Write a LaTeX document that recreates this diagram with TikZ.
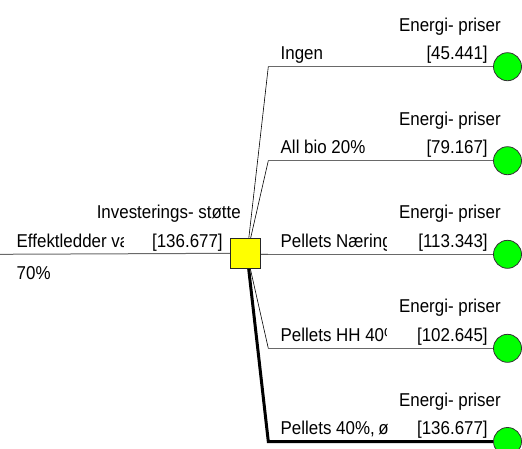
\documentclass[tikz,border=0pt]{standalone}
\usepackage{fontspec}
\setmainfont[FakeStretch=0.91]{Liberation Sans}
\usetikzlibrary{backgrounds}

\definecolor{decyellow}{RGB}{255,255,0}
\definecolor{chancegreen}{RGB}{0,255,0}
\definecolor{branchgray}{RGB}{105,105,105}

\tikzset{
  every node/.style={font=\fontsize{18.6}{22}\selectfont, inner sep=0pt, outer sep=0pt},
  decision/.style={rectangle, draw=black!85, line width=0.8pt, fill=decyellow, minimum size=30pt},
  chance/.style={circle, draw=black!80, line width=0.8pt, fill=chancegreen, minimum size=28pt},
  hline/.style={draw=branchgray, line width=1pt},
  sline/.style={draw=black, line width=0.6pt},
  bestline/.style={draw=black, line width=3pt, line join=miter},
  title/.style={anchor=base east},
  value/.style={anchor=base east},
  label/.style={anchor=base west},
}

\begin{document}
\begin{tikzpicture}[x=1pt, y=-1pt]
  \useasboundingbox (0,0) rectangle (522,448);

  % decision node and its incoming branch
  \node[decision] (sq) at (245,253.3) {};
  \coordinate (start) at (0,254.3);
  \coordinate (hub) at (247,254);

  % branch corners and chance nodes
  \foreach \i/\y in {1/66.7, 2/160.7, 3/254.3, 4/348.3, 5/441.5} {
    \coordinate (c\i) at (268.3,\y);
    \node[chance] (e\i) at (507.5,\y) {};
  }

  \begin{pgfonlayer}{background}
    \draw[hline] (start) -- (sq.west);
    \foreach \i in {1,2,3,4} {
      \draw[sline] (hub) -- (c\i);
      \draw[hline] (c\i) -- (e\i.west);
    }
    \draw[bestline] (hub) -- (c5) -- (e5.west);
  \end{pgfonlayer}

  % texts of the incoming branch
  \node[title] (tInv) at (240.7,218.3) {Investerings- støtte};
  \node[value] (vInv) at (222.7,247.3) {[136.677]};
  \begin{scope}
    \clip (0,200) rectangle (123.3,260);
    \node[label] (lEff) at (16.7,247.3) {Effektledder væ};
  \end{scope}
  \node[label] (lPct) at (16.7,279.3) {70\%};

  % chance node titles and values
  \foreach \i/\y/\v in {1/66.7/45.441, 2/160.7/79.167, 3/254.3/113.343,
                        4/348.3/102.645, 5/441.5/136.677} {
    \node[title] (t\i) at (500.7,\y-35.5) {Energi- priser};
    \node[value] (v\i) at (487.7,\y-7) {[\v]};
  }

  % branch labels (cut off at the column edge)
  \begin{scope}
    \clip (270,0) rectangle (386.7,448);
    \node[label] (l1) at (280.7,66.7-7) {Ingen};
    \node[label] (l2) at (280.7,160.7-7) {All bio 20\%};
    \node[label] (l3) at (280.7,254.3-7) {Pellets Næring};
    \node[label] (l4) at (280.7,348.3-7) {Pellets HH 40\%};
  \end{scope}
  \node[label] (l5) at (280.7,441.5-7) {Pellets 40\%,\kern-1pt\ ø};
\end{tikzpicture}
\end{document}
